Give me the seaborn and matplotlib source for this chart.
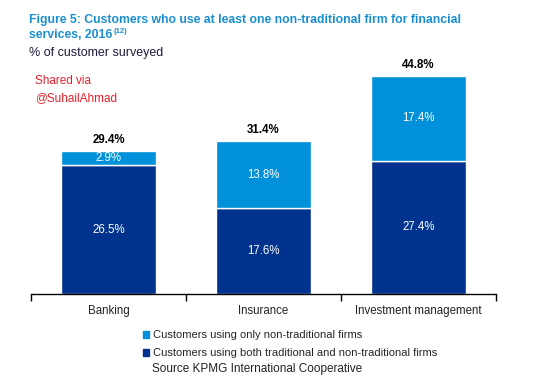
import matplotlib
matplotlib.use('Agg')
import matplotlib.pyplot as plt
from matplotlib.patches import Patch
import seaborn as sns
import pandas as pd

categories = ['Banking', 'Insurance', 'Investment management']
both_firms = [26.5, 17.6, 27.4]
only_nontrad = [2.9, 13.8, 17.4]
totals = [29.4, 31.4, 44.8]

dark_blue = '#00338d'
light_blue = '#0091da'

sns.set_theme(style='white')
plt.rcParams['font.family'] = ['Liberation Sans', 'DejaVu Sans']

df = pd.DataFrame({'cat': categories, 'both': both_firms, 'only': only_nontrad, 'total': totals})

fig = plt.figure(figsize=(5.36, 3.8), dpi=100)
ax = fig.add_axes([0.058, 0.226, 0.867, 0.641])

sns.barplot(data=df, x='cat', y='both', color=dark_blue, width=0.61,
            saturation=1, edgecolor='white', linewidth=1, ax=ax)
sns.barplot(data=df, x='cat', y='only', color=light_blue, width=0.61,
            saturation=1, edgecolor='white', linewidth=1, bottom=df['both'], ax=ax)

for i, row in df.iterrows():
    ax.text(i, row['both'] / 2, f"{row['both']}%", ha='center', va='center',
            color='white', fontsize=8.3)
    ax.text(i, row['both'] + row['only'] / 2, f"{row['only']}%", ha='center',
            va='center', color='white', fontsize=8.3)
    ax.text(i, row['total'] + 1.0, f"{row['total']}%", ha='center', va='bottom',
            color='black', fontsize=8.3, fontweight='bold')

ax.set_xlim(-0.5, 2.5)
ax.set_ylim(0, 50)
ax.set_xlabel('')
ax.set_ylabel('')
ax.set_yticks([])
for s in ['top', 'right', 'left']:
    ax.spines[s].set_visible(False)
ax.spines['bottom'].set_color('black')
ax.spines['bottom'].set_linewidth(1)
ax.set_xticks([0, 1, 2])
ax.set_xticklabels(categories, fontsize=8.3, color='#222222')
ax.tick_params(axis='x', which='major', length=0, pad=8)
ax.set_xticks([-0.5, 0.5, 1.5, 2.5], minor=True)
ax.tick_params(axis='x', which='minor', length=5, width=1, color='black',
               direction='out', bottom=True)

title_color = '#1a8fd0'
fig.text(0.054, 0.948, 'Figure 5: Customers who use at least one non-traditional firm for financial',
         color=title_color, fontsize=8.8, fontweight='bold', va='center')
t2 = fig.text(0.054, 0.908, 'services, 2016',
              color=title_color, fontsize=8.8, fontweight='bold', va='center')
fig.canvas.draw()
bb = t2.get_window_extent().transformed(fig.transFigure.inverted())
fig.text(bb.x1 + 0.002, 0.918, '(12)', color=title_color, fontsize=5.5,
         fontweight='bold', va='center')

fig.text(0.054, 0.861, '% of customer surveyed', color='#1c1c3c', fontsize=9, va='center')
fig.text(0.065, 0.787, 'Shared via', color='#e8202a', fontsize=8.5, va='center')
fig.text(0.065, 0.743, '@SuhailAhmad', color='#e8202a', fontsize=8.5, va='center')

# legend
handles = [Patch(color=light_blue), Patch(color=dark_blue)]
labels = ['Customers using only non-traditional firms',
          'Customers using both traditional and non-traditional firms']
fig.legend(handles, labels, loc='center left', bbox_to_anchor=(0.256, 0.094),
           frameon=False, fontsize=8, handlelength=0.55, handleheight=0.55,
           handletextpad=0.35, labelspacing=0.7, borderpad=0)
fig.text(0.284, 0.029, 'Source KPMG International Cooperative', color='#222222',
         fontsize=8.5, va='center')

fig.savefig('out.png', dpi=100)
